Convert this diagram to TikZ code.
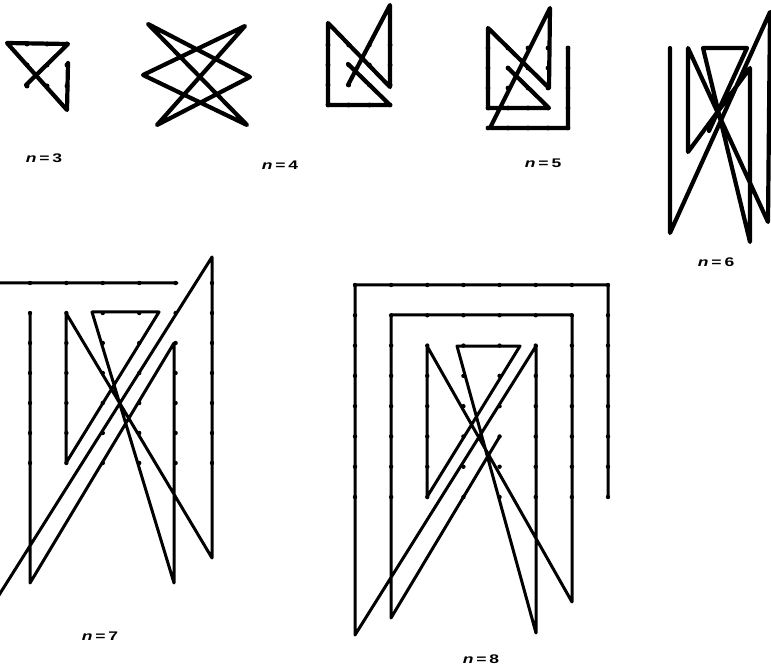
\documentclass[tikz,border=0pt]{standalone}
\usepackage{fontspec}
\setmainfont{Liberation Sans}

\begin{document}
\begin{tikzpicture}[x=1pt, y=-1pt, line join=round, line cap=round]
\tikzstyle{trail} = [draw=black, line width=3pt]
\tikzstyle{heavytrail} = [draw=black, line width=4.2pt]
\tikzstyle{caption} = [font=\bfseries\fontsize{12.5}{12.5}\selectfont, inner sep=0pt]

\useasboundingbox (0,0) rectangle (771,668);
\clip (0,0) rectangle (771,668);

% n=3
\draw[heavytrail] (26,85) -- (68,44) -- (7,43) -- (67,110) -- (68,63);
\foreach \i in {0,1,2} \foreach \j in {0,1,2} \fill ({27+20*\i},{44+21*\j}) circle (2.5pt);

% n=4, star
\draw[heavytrail] (148,24) -- (250,77) -- (157,125) -- (245,26) -- (143,75) -- (247,125) -- cycle;

% n=4, second way
\draw[heavytrail] (348,85) -- (390,5) -- (390,87) -- (328,23) -- (328,105) -- (390,105) -- (348,64);
\foreach \i in {0,...,3} \foreach \j in {0,...,3} \fill ({328+20.7*\i},{45+20*\j}) circle (2.4pt);

% n=5
\draw[heavytrail] (568,48) -- (568,128) -- (490,128) -- (550,8) -- (549,88) -- (488,28) -- (488,108) -- (549,108) -- (508,68);
\foreach \i in {0,...,4} \foreach \j in {0,...,4} \fill ({488+20*\i},{48+20*\j}) circle (2.4pt);

% n=6
\draw[heavytrail] (709,131) -- (747,48) -- (703,48) -- (750,242) -- (750,68) -- (688,152) -- (688,48) -- (768,222) -- (770,12) -- (670,233) -- (670,48);

% n=7
\draw[trail] (177,283) -- (-6,283) -- (-6,603) -- (212,257) -- (212,558) -- (66,313) -- (66,463) -- (159,312) -- (92,312) -- (174,583) -- (174,343) -- (30,583) -- (30,313);
\foreach \i in {0,...,6} \foreach \j in {0,...,6} \fill ({-6.4+36.4*\i},{283+30*\j}) circle (2.2pt);

% n=8
\draw[trail] (608,497) -- (608,285) -- (355,285) -- (355,635) -- (536,346) -- (536,633) -- (457,346) -- (520,346) -- (427,497) -- (427,346) -- (572,602) -- (572,315) -- (391,315) -- (391,618) -- (500,436);
\foreach \i in {0,...,7} \foreach \j in {0,...,7} \fill ({355+36.14*\i},{285+30.29*\j}) circle (2.2pt);

% labels
\node (lab3) [caption] at (44,158) {\scalebox{1.4}[1]{\textit{n}\,=\,3}};
\node (lab4) [caption] at (280,165) {\scalebox{1.4}[1]{\textit{n}\,=\,4}};
\node (lab5) [caption] at (543,163) {\scalebox{1.4}[1]{\textit{n}\,=\,5}};
\node (lab6) [caption] at (716,262) {\scalebox{1.4}[1]{\textit{n}\,=\,6}};
\node (lab7) [caption] at (100,636) {\scalebox{1.4}[1]{\textit{n}\,=\,7}};
\node (lab8) [caption] at (481,659) {\scalebox{1.4}[1]{\textit{n}\,=\,8}};
\end{tikzpicture}
\end{document}
